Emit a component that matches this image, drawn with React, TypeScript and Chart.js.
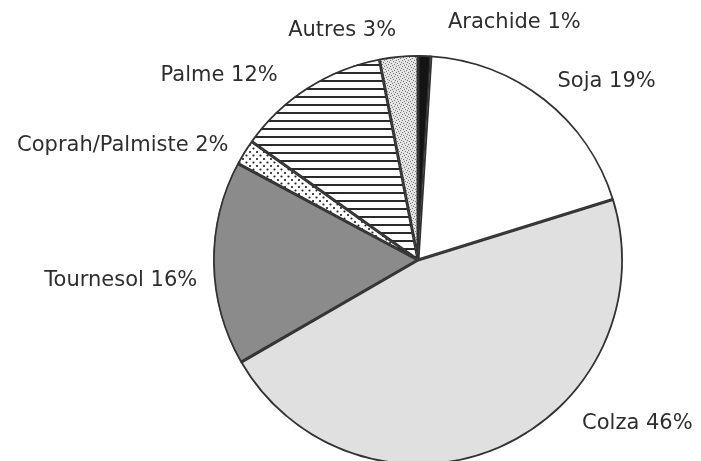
import React, { useEffect, useRef } from "react";
import { Chart, registerables } from "chart.js";

Chart.register(...registerables);

const categories = ["Arachide", "Soja", "Colza", "Tournesol", "Coprah/Palmiste", "Palme", "Autres"];
const shares = [1, 19, 46, 16, 2, 12, 3];
const labelTexts = ["Arachide 1%", "Soja 19%", "Colza 46%", "Tournesol 16%", "Coprah/Palmiste 2%", "Palme 12%", "Autres 3%"];
// label centre offsets relative to pie centre, in units of the outer radius
const labelOffsets: [number, number][] = [
  [0.47, -1.16],
  [0.92, -0.87],
  [1.07, 0.8],
  [-1.45, 0.1],
  [-1.44, -0.56],
  [-0.97, -0.9],
  [-0.37, -1.12],
];

function tile(w: number, h: number, draw: (c: CanvasRenderingContext2D) => void): CanvasPattern | string {
  const cv = document.createElement("canvas");
  cv.width = w;
  cv.height = h;
  const c = cv.getContext("2d")!;
  draw(c);
  const ctx = document.createElement("canvas").getContext("2d")!;
  return ctx.createPattern(cv, "repeat") || "#fff";
}

function makeFills() {
  const black = "#141414";
  const white = "#ffffff";
  const colza = "#e0e0e0";
  const tournesol = "#8b8b8b";
  const coprah = tile(7, 7, (c) => {
    c.fillStyle = "#fff";
    c.fillRect(0, 0, 7, 7);
    c.fillStyle = "#222";
    c.beginPath();
    c.arc(1.5, 1.5, 1.1, 0, Math.PI * 2);
    c.arc(5, 5, 1.1, 0, Math.PI * 2);
    c.fill();
  });
  const palme = tile(8, 8, (c) => {
    c.fillStyle = "#fff";
    c.fillRect(0, 0, 8, 8);
    c.fillStyle = "#2a2a2a";
    c.fillRect(0, 0, 8, 2);
  });
  const autres = tile(6, 6, (c) => {
    c.fillStyle = "#e4e4e4";
    c.fillRect(0, 0, 6, 6);
    c.fillStyle = "#777";
    const dots = [[0, 0], [3, 1], [1, 3], [4, 4], [5, 2], [2, 5]];
    dots.forEach(([x, y]) => c.fillRect(x, y, 1, 1));
  });
  return [black, white, colza, tournesol, coprah, palme, autres];
}

const labelPlugin = {
  id: "pieLabels",
  afterDraw(chart: any) {
    const meta = chart.getDatasetMeta(0);
    const arc = meta.data[0];
    if (!arc) return;
    const { x, y, outerRadius } = arc.getProps(["x", "y", "outerRadius"], true);
    const ctx = chart.ctx;
    ctx.save();
    ctx.font = "21px 'DejaVu Sans'";
    ctx.fillStyle = "#2e2e2e";
    ctx.textAlign = "center";
    ctx.textBaseline = "middle";
    labelTexts.forEach((t, i) => {
      const [dx, dy] = labelOffsets[i];
      ctx.fillText(t, x + dx * outerRadius, y + dy * outerRadius);
    });
    ctx.restore();
  },
};

export default function App() {
  const ref = useRef<HTMLCanvasElement>(null);
  useEffect(() => {
    if (!ref.current) return;
    const chart = new Chart(ref.current, {
      type: "pie",
      data: {
        labels: categories,
        datasets: [
          {
            data: shares,
            backgroundColor: makeFills() as any,
            borderColor: "#333",
            borderWidth: 1.5,
          },
        ],
      },
      options: {
        animation: false,
        responsive: true,
        maintainAspectRatio: false,
        radius: 205,
        layout: { padding: { left: 135, right: 0, top: 59, bottom: 0 } },
        plugins: { legend: { display: false }, tooltip: { enabled: false } },
        elements: { arc: { borderAlign: "inner" } },
      },
      plugins: [labelPlugin],
    });
    return () => chart.destroy();
  }, []);
  return (
    <div style={{ position: "fixed", left: 0, top: 0, width: 701, height: 461, background: "#fff" }}>
      <canvas ref={ref} />
    </div>
  );
}
